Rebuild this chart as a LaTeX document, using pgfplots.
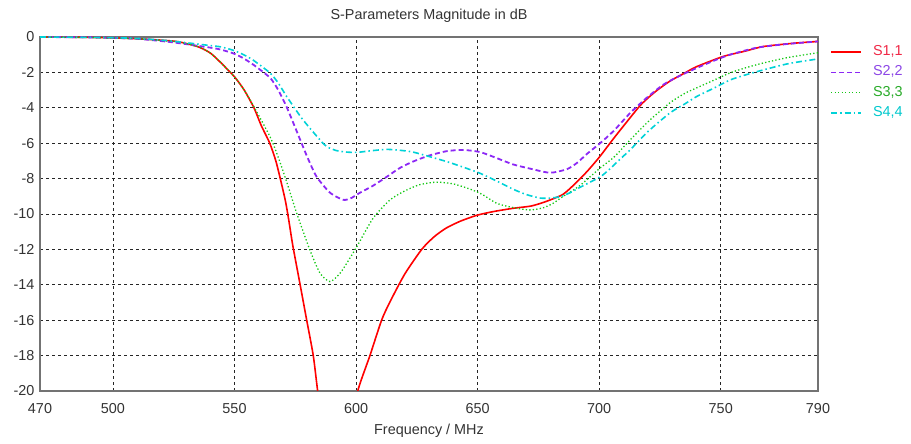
\documentclass[border=0pt]{standalone}
\usepackage{pgfplots}
\pgfplotsset{compat=1.18}
\usepackage{fontspec}
\setmainfont{Liberation Sans}
\definecolor{cA}{RGB}{255,0,0}
\definecolor{cB}{RGB}{140,40,245}
\definecolor{cC}{RGB}{20,200,20}
\definecolor{cD}{RGB}{0,210,215}
\definecolor{tA}{RGB}{240,40,70}
\definecolor{tB}{RGB}{140,70,230}
\definecolor{tC}{RGB}{40,170,40}
\definecolor{tD}{RGB}{0,200,205}
\begin{document}
\begin{tikzpicture}[x=1pt,y=1pt]
\path[use as bounding box] (0,0) rectangle (911,444);
\begin{axis}[
  at={(40pt,53pt)}, anchor=south west,
  scale only axis, width=778pt, height=354pt,
  xmin=470, xmax=790, ymin=-20, ymax=0,
  xtick={470,500,550,600,650,700,750,790},
  ytick={-20,-18,-16,-14,-12,-10,-8,-6,-4,-2,0},
  grid=major,
  major grid style={black!85, dash pattern=on 3pt off 3pt, line width=0.8pt},
  axis line style={black!55, line width=1.3pt},
  tick style={draw=none},
  /pgf/number format/assume math mode=true,
  tick label style={font=\fontsize{14.4}{16}\selectfont, text=black!80},
  xticklabel style={yshift=-9pt},
  yticklabel style={xshift=-2pt},
  title={S-Parameters Magnitude in dB},
  title style={at={(0.5,1)}, anchor=base, yshift=11pt, inner sep=0pt, font=\fontsize{14.4}{16}\selectfont, text=black!80},
  xlabel={Frequency / MHz},
  xlabel style={at={(0.5,0)}, anchor=base, yshift=-44pt, inner sep=0pt, font=\fontsize{14.4}{16}\selectfont, text=black!80},
  legend style={at={(1,1)}, anchor=north west, xshift=12pt, yshift=-6.5pt, draw=none, fill=none,
    inner sep=0pt, row sep=3.3pt, column sep=9pt, font=\fontsize{14.4}{16}\selectfont,
    nodes={inner sep=2pt, text height=10pt, text depth=3pt}},
  legend cell align=left,
  legend image code/.code={\draw[#1] (0pt,0pt) -- (30pt,0pt);},
]
\addplot[cA, line width=1.6pt, smooth, tension=0.4] coordinates {
(470,0) (480,-0.01) (490,-0.02) (500,-0.05) (510,-0.1) (520,-0.18) (527,-0.27)
(535,-0.55) (540,-0.9) (544,-1.4) (550,-2.25) (554,-3.0) (558,-4.0) (561,-5.0)
(564.5,-6.0) (567,-7.0) (569,-8.1) (571,-9.3) (572.5,-10.5) (574,-11.8) (577,-14)
(579.7,-16) (582.4,-18) (584.2,-20) (586,-21.8) (588,-24) (592,-27) (596,-24)
(598.5,-22) (600.7,-20) (605.7,-18) (610.5,-16) (614,-14.95) (620,-13.4) (627,-12.0)
(632,-11.3) (637,-10.8) (643,-10.4) (650,-10.06) (657,-9.85) (665,-9.67) (672,-9.55)
(678,-9.3) (685,-8.9) (690,-8.3) (695,-7.6) (700,-6.8) (705,-5.9) (709,-5.2)
(717,-3.85) (723,-3.1) (729,-2.5) (735,-2.05) (740,-1.68) (751,-1.1) (760,-0.8)
(767,-0.55) (775,-0.42) (782,-0.33) (790,-0.25)
};
\addlegendentry{\textcolor{tA}{S1,1}}
\addplot[cB, line width=1.8pt, dash pattern=on 5pt off 3pt, smooth, tension=0.4] coordinates {
(470,0) (490,-0.02) (500,-0.05) (510,-0.1) (522,-0.26) (530,-0.4) (536,-0.52) (540,-0.6)
(544,-0.7) (549,-0.9) (553,-1.15) (557.6,-1.55) (564.6,-2.3) (568,-3.0) (571.6,-4.0)
(577,-5.8) (580,-6.8)
(583.8,-7.9) (589.3,-8.8) (594.7,-9.2) (598,-9.1) (601.6,-8.8) (607,-8.4) (612.6,-7.9)
(618,-7.4) (623.4,-7.04) (630,-6.7) (637.3,-6.45) (644,-6.38) (651,-6.5) (658,-6.85)
(664.6,-7.2) (672,-7.45) (679.8,-7.67) (686.7,-7.47) (691,-7.1) (695,-6.6) (700.4,-6.0)
(706,-5.3) (712.7,-4.3) (719,-3.5) (726.3,-2.7) (733,-2.2) (740,-1.76) (747,-1.35)
(753.8,-1.0) (765,-0.6) (777,-0.4) (790,-0.25)
};
\addlegendentry{\textcolor{tB}{S2,2}}
\addplot[cC, line width=1.3pt, dash pattern=on 1.3pt off 2.2pt, smooth, tension=0.4] coordinates {
(470,0) (490,-0.03) (500,-0.06) (510,-0.1) (520,-0.2) (527,-0.28) (535,-0.55)
(540,-0.9) (544,-1.4) (550,-2.25) (554,-3.0) (557.6,-3.84) (564.6,-5.63) (568,-6.8)
(571.5,-8.2) (575.6,-9.96) (581,-12.03) (585.2,-13.35) (589.3,-13.82) (593.4,-13.35)
(597,-12.6) (600.3,-11.85) (607,-10.24) (614,-9.2) (620,-8.7) (626,-8.35) (633,-8.2)
(640,-8.3) (647,-8.6) (652,-8.9) (657.9,-9.4) (665,-9.65) (671.6,-9.77) (677,-9.65)
(681,-9.4) (685,-9.02) (692,-8.4) (700.4,-7.4) (706,-6.8) (712.7,-5.82) (720,-4.8)
(729,-3.73) (735,-3.2) (740,-2.88) (747,-2.45) (753.8,-2.03) (760,-1.75) (767.5,-1.47)
(778,-1.15) (790,-0.89)
};
\addlegendentry{\textcolor{tC}{S3,3}}
\addplot[cD, line width=1.6pt, dash pattern=on 6pt off 3pt on 1.5pt off 3pt, smooth, tension=0.4] coordinates {
(470,0) (490,-0.02) (500,-0.04) (510,-0.08) (522,-0.2) (530,-0.32) (536,-0.42) (544,-0.55)
(549,-0.73) (553,-0.95) (557.6,-1.3) (564.6,-2.03) (568,-2.6) (571.5,-3.37) (578,-4.65)
(585.2,-5.82) (588,-6.2) (592,-6.42) (596,-6.5) (600.3,-6.52) (606,-6.43) (612.6,-6.35)
(618,-6.4) (623.4,-6.5) (630,-6.75) (637.3,-7.04) (644,-7.35) (651,-7.7) (658,-8.15)
(664.6,-8.6) (670,-8.9) (675.7,-9.1) (680,-9.1) (684,-9.02) (688,-8.8) (692,-8.5)
(700.4,-7.9) (704,-7.5) (708.6,-6.9) (712.7,-6.38) (720,-5.35) (729,-4.3) (735,-3.8)
(740,-3.37) (747,-2.9) (753.8,-2.43) (760,-2.15) (767.5,-1.86) (778,-1.5) (790,-1.24)
};
\addlegendentry{\textcolor{tD}{S4,4}}
\end{axis}
\end{tikzpicture}
\end{document}
